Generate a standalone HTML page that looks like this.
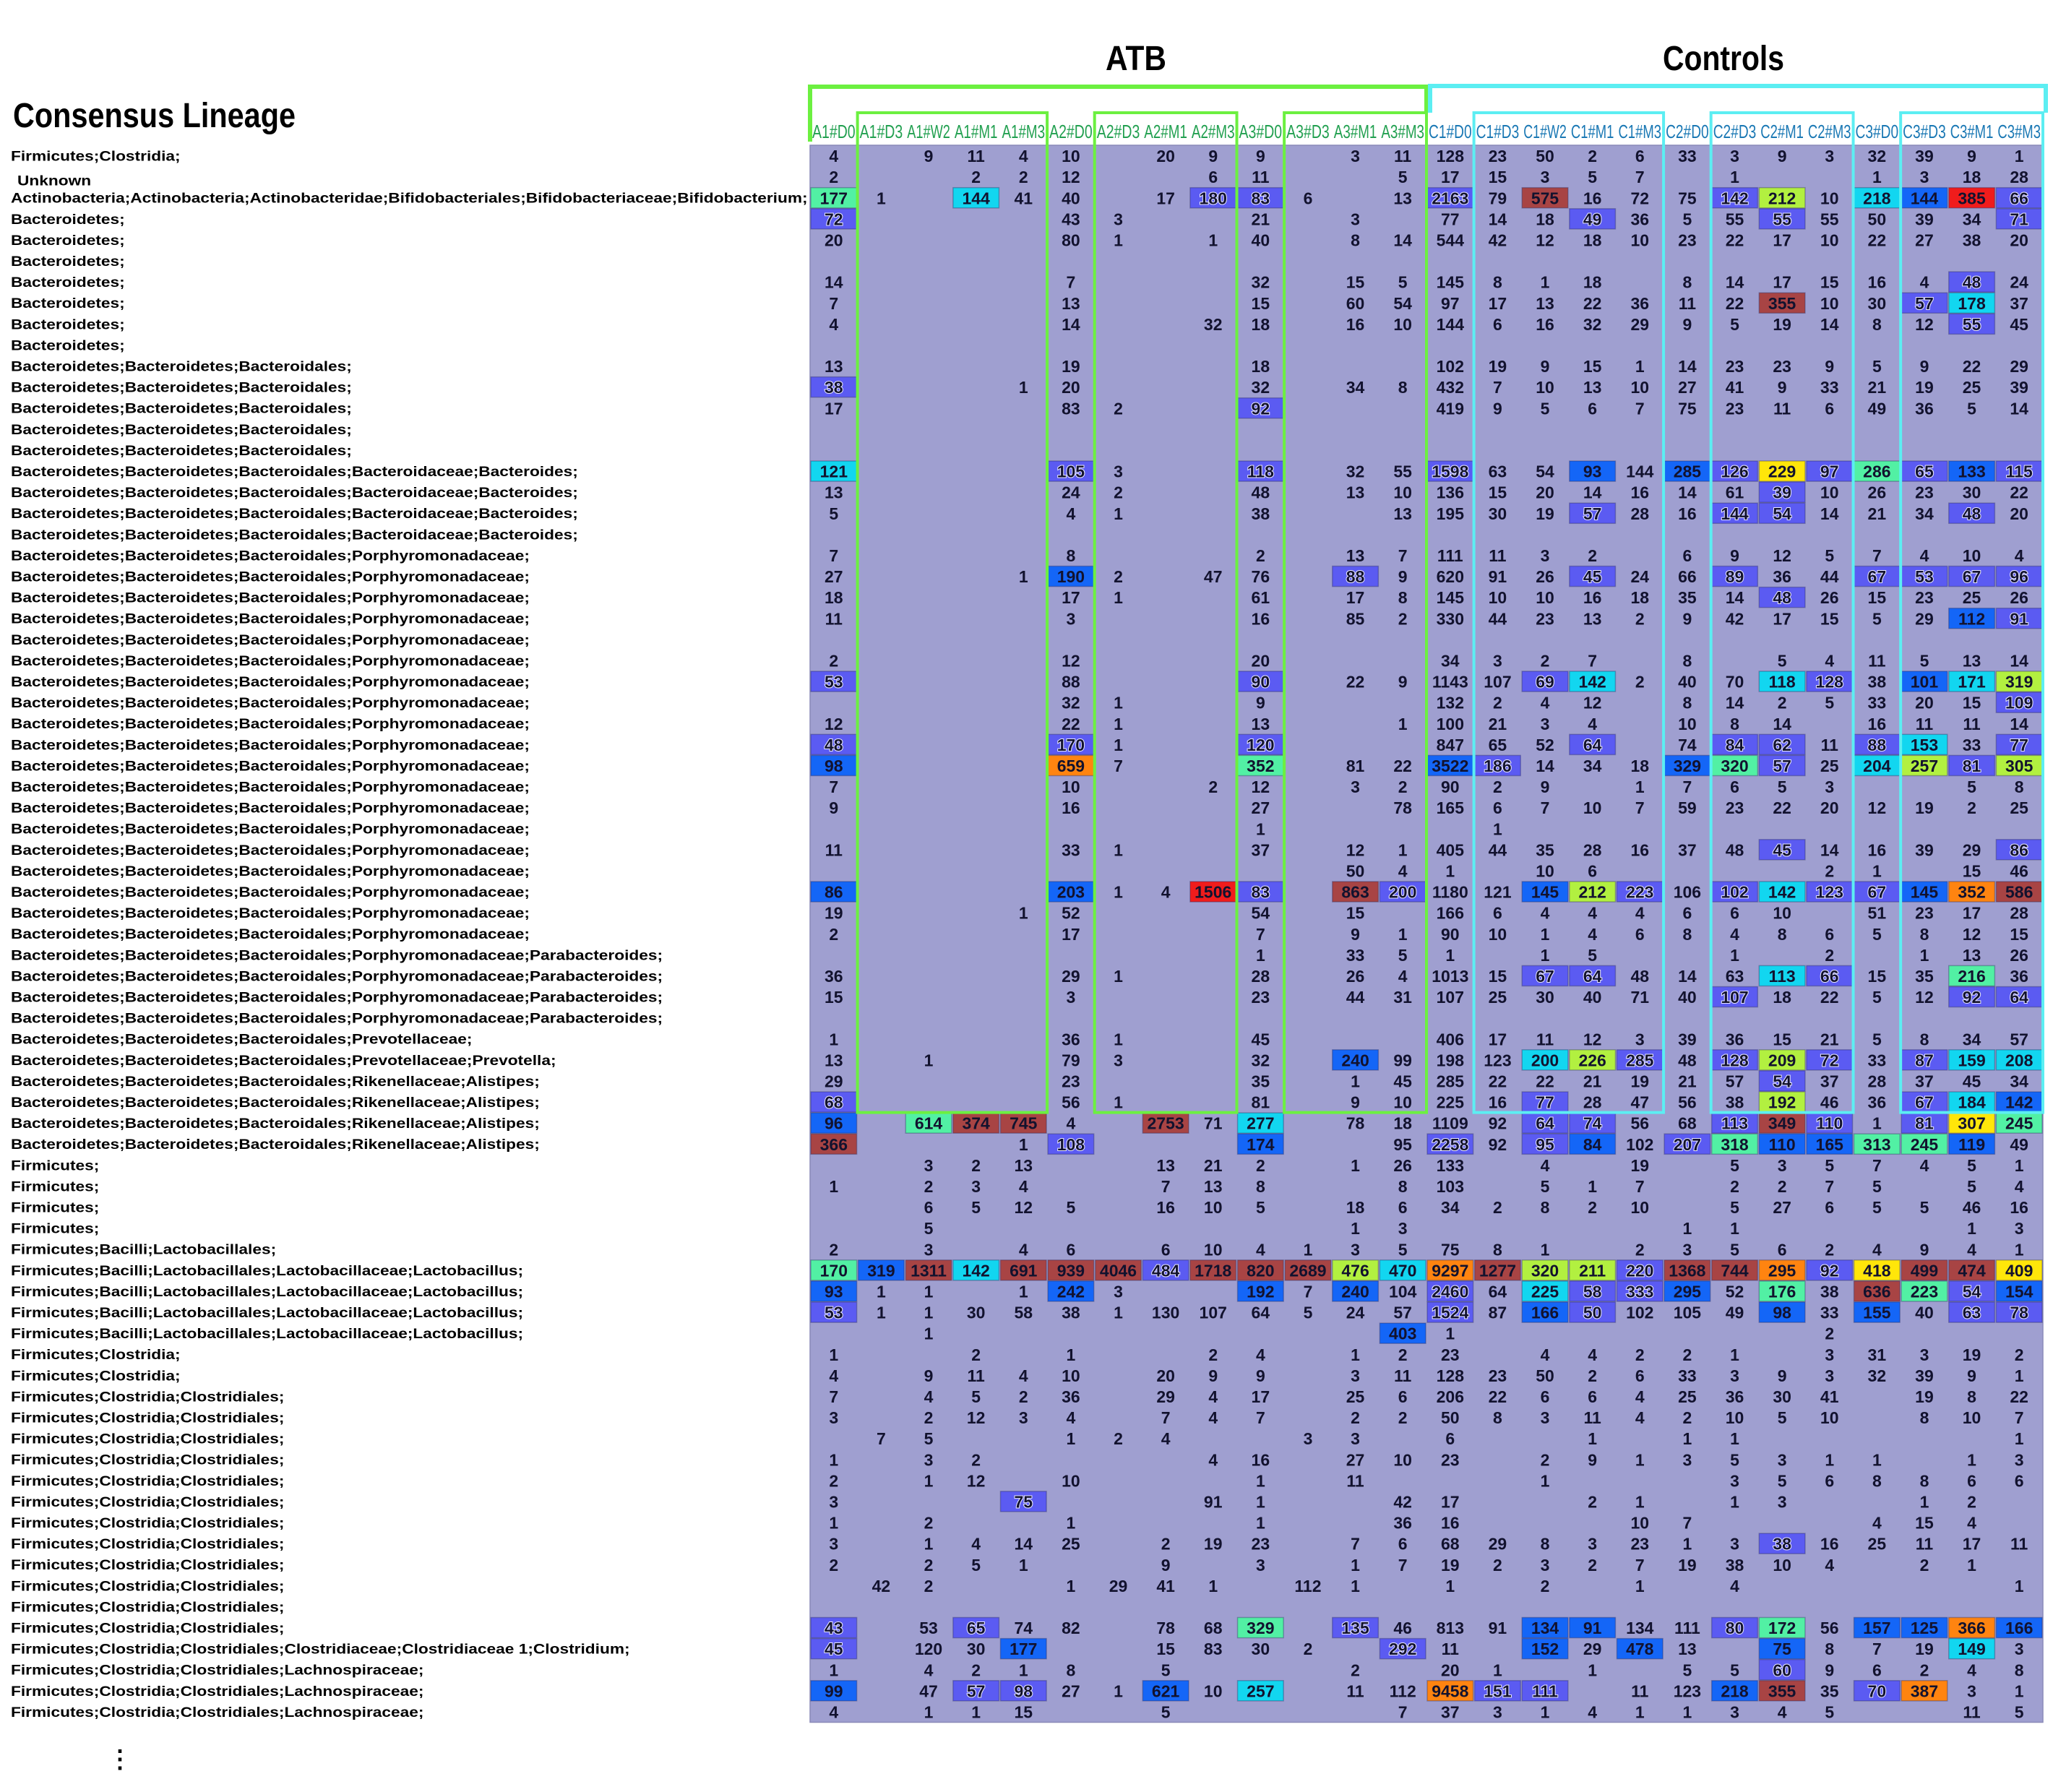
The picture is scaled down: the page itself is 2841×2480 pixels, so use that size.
<!DOCTYPE html>
<html><head><meta charset="utf-8"><title>Consensus Lineage heatmap</title>
<style>
html,body{margin:0;padding:0;background:#fff;}
svg{display:block;}
text{font-family:"Liberation Sans",Arial,sans-serif;}
</style></head>
<body>
<svg id="chart" xmlns="http://www.w3.org/2000/svg" width="2841" height="2480" viewBox="0 0 2841 2480">
<rect x="0" y="0" width="2841" height="2480" fill="#ffffff"/>
<text x="18" y="176" font-size="48" font-weight="bold" textLength="391" lengthAdjust="spacingAndGlyphs" fill="#000">Consensus Lineage</text>
<text x="1572" y="97" font-size="48" font-weight="bold" text-anchor="middle" textLength="84" lengthAdjust="spacingAndGlyphs" fill="#000">ATB</text>
<text x="2385" y="97" font-size="48" font-weight="bold" text-anchor="middle" textLength="168" lengthAdjust="spacingAndGlyphs" fill="#000">Controls</text>
<text x="166" y="2446" font-size="34" font-weight="bold" text-anchor="middle" fill="#000">⋮</text>
<g id="cells"></g>
<g id="labels" transform="scale(1.165,1)"></g>
<g id="heads"></g>
<g id="boxes"></g>
</svg>
<script>
const colLabels = ["A1#D0","A1#D3","A1#W2","A1#M1","A1#M3","A2#D0","A2#D3","A2#M1","A2#M3","A3#D0","A3#D3","A3#M1","A3#M3",
"C1#D0","C1#D3","C1#W2","C1#M1","C1#M3","C2#D0","C2#D3","C2#M1","C2#M3","C3#D0","C3#D3","C3#M1","C3#M3"];

const P = "Bacteroidetes;Bacteroidetes;Bacteroidales;";
const rowLabels = [
"Firmicutes;Clostridia;"," Unknown",
"Actinobacteria;Actinobacteria;Actinobacteridae;Bifidobacteriales;Bifidobacteriaceae;Bifidobacterium;",
"Bacteroidetes;","Bacteroidetes;","Bacteroidetes;","Bacteroidetes;","Bacteroidetes;","Bacteroidetes;","Bacteroidetes;",
P,P,P,P,P,
P+"Bacteroidaceae;Bacteroides;",P+"Bacteroidaceae;Bacteroides;",P+"Bacteroidaceae;Bacteroides;",P+"Bacteroidaceae;Bacteroides;",
P+"Porphyromonadaceae;",P+"Porphyromonadaceae;",P+"Porphyromonadaceae;",P+"Porphyromonadaceae;",P+"Porphyromonadaceae;",
P+"Porphyromonadaceae;",P+"Porphyromonadaceae;",P+"Porphyromonadaceae;",P+"Porphyromonadaceae;",P+"Porphyromonadaceae;",
P+"Porphyromonadaceae;",P+"Porphyromonadaceae;",P+"Porphyromonadaceae;",P+"Porphyromonadaceae;",P+"Porphyromonadaceae;",
P+"Porphyromonadaceae;",P+"Porphyromonadaceae;",P+"Porphyromonadaceae;",P+"Porphyromonadaceae;",
P+"Porphyromonadaceae;Parabacteroides;",P+"Porphyromonadaceae;Parabacteroides;",P+"Porphyromonadaceae;Parabacteroides;",P+"Porphyromonadaceae;Parabacteroides;",
P+"Prevotellaceae;",P+"Prevotellaceae;Prevotella;",
P+"Rikenellaceae;Alistipes;",P+"Rikenellaceae;Alistipes;",P+"Rikenellaceae;Alistipes;",P+"Rikenellaceae;Alistipes;",
"Firmicutes;","Firmicutes;","Firmicutes;","Firmicutes;",
"Firmicutes;Bacilli;Lactobacillales;",
"Firmicutes;Bacilli;Lactobacillales;Lactobacillaceae;Lactobacillus;","Firmicutes;Bacilli;Lactobacillales;Lactobacillaceae;Lactobacillus;",
"Firmicutes;Bacilli;Lactobacillales;Lactobacillaceae;Lactobacillus;","Firmicutes;Bacilli;Lactobacillales;Lactobacillaceae;Lactobacillus;",
"Firmicutes;Clostridia;","Firmicutes;Clostridia;",
"Firmicutes;Clostridia;Clostridiales;","Firmicutes;Clostridia;Clostridiales;","Firmicutes;Clostridia;Clostridiales;","Firmicutes;Clostridia;Clostridiales;",
"Firmicutes;Clostridia;Clostridiales;","Firmicutes;Clostridia;Clostridiales;","Firmicutes;Clostridia;Clostridiales;","Firmicutes;Clostridia;Clostridiales;",
"Firmicutes;Clostridia;Clostridiales;","Firmicutes;Clostridia;Clostridiales;","Firmicutes;Clostridia;Clostridiales;","Firmicutes;Clostridia;Clostridiales;",
"Firmicutes;Clostridia;Clostridiales;Clostridiaceae;Clostridiaceae 1;Clostridium;",
"Firmicutes;Clostridia;Clostridiales;Lachnospiraceae;","Firmicutes;Clostridia;Clostridiales;Lachnospiraceae;","Firmicutes;Clostridia;Clostridiales;Lachnospiraceae;"
];

// cell values per row (A1#D0 ... C3#M3); "." = empty; suffix letter = highlight colour class
const cellValues = [
"4 . 9 11 4 10 . 20 9 9 . 3 11 | 128 23 50 2 6 33 3 9 3 32 39 9 1",
"2 . . 2 2 12 . . 6 11 . . 5 | 17 15 3 5 7 . 1 . . 1 3 18 28",
"177g 1 . 144c 41 40 . 17 180b 83b 6 . 13 | 2163b 79 575d 16 72 75 142b 212y 10 218c 144B 385r 66b",
"72b . . . . 43 3 . . 21 . 3 . | 77 14 18 49b 36 5 55 55b 55 50 39 34 71b",
"20 . . . . 80 1 . 1 40 . 8 14 | 544 42 12 18 10 23 22 17 10 22 27 38 20",
"",
"14 . . . . 7 . . . 32 . 15 5 | 145 8 1 18 . 8 14 17 15 16 4 48b 24",
"7 . . . . 13 . . . 15 . 60 54 | 97 17 13 22 36 11 22 355d 10 30 57b 178c 37",
"4 . . . . 14 . . 32 18 . 16 10 | 144 6 16 32 29 9 5 19 14 8 12 55b 45",
"",
"13 . . . . 19 . . . 18 . . . | 102 19 9 15 1 14 23 23 9 5 9 22 29",
"38b . . . 1 20 . . . 32 . 34 8 | 432 7 10 13 10 27 41 9 33 21 19 25 39",
"17 . . . . 83 2 . . 92b . . . | 419 9 5 6 7 75 23 11 6 49 36 5 14",
"",
"",
"121c . . . . 105b 3 . . 118b . 32 55 | 1598b 63 54 93B 144 285B 126b 229Y 97b 286g 65b 133B 115b",
"13 . . . . 24 2 . . 48 . 13 10 | 136 15 20 14 16 14 61 39b 10 26 23 30 22",
"5 . . . . 4 1 . . 38 . . 13 | 195 30 19 57b 28 16 144b 54b 14 21 34 48b 20",
"",
"7 . . . . 8 . . . 2 . 13 7 | 111 11 3 2 . 6 9 12 5 7 4 10 4",
"27 . . . 1 190B 2 . 47 76 . 88b 9 | 620 91 26 45b 24 66 89b 36 44 67b 53b 67b 96b",
"18 . . . . 17 1 . . 61 . 17 8 | 145 10 10 16 18 35 14 48b 26 15 23 25 26",
"11 . . . . 3 . . . 16 . 85 2 | 330 44 23 13 2 9 42 17 15 5 29 112B 91b",
"",
"2 . . . . 12 . . . 20 . . . | 34 3 2 7 . 8 . 5 4 11 5 13 14",
"53b . . . . 88 . . . 90b . 22 9 | 1143 107 69b 142c 2 40 70 118c 128b 38 101B 171c 319y",
". . . . . 32 1 . . 9 . . . | 132 2 4 12 . 8 14 2 5 33 20 15 109b",
"12 . . . . 22 1 . . 13 . . 1 | 100 21 3 4 . 10 8 14 . 16 11 11 14",
"48b . . . . 170b 1 . . 120b . . . | 847 65 52 64b . 74 84b 62b 11 88b 153c 33 77b",
"98B . . . . 659o 7 . . 352g . 81 22 | 3522B 186b 14 34 18 329B 320g 57b 25 204c 257y 81b 305y",
"7 . . . . 10 . . 2 12 . 3 2 | 90 2 9 . 1 7 6 5 3 . . 5 8",
"9 . . . . 16 . . . 27 . . 78 | 165 6 7 10 7 59 23 22 20 12 19 2 25",
". . . . . . . . . 1 . . . | . 1 . . . . . . . . . . .",
"11 . . . . 33 1 . . 37 . 12 1 | 405 44 35 28 16 37 48 45b 14 16 39 29 86b",
". . . . . . . . . . . 50 4 | 1 . 10 6 . . . . 2 1 . 15 46",
"86B . . . . 203B 1 4 1506r 83b . 863d 200b | 1180 121 145B 212y 223b 106 102b 142c 123b 67b 145B 352o 586d",
"19 . . . 1 52 . . . 54 . 15 . | 166 6 4 4 4 6 6 10 . 51 23 17 28",
"2 . . . . 17 . . . 7 . 9 1 | 90 10 1 4 6 8 4 8 6 5 8 12 15",
". . . . . . . . . 1 . 33 5 | 1 . 1 5 . . 1 . 2 . 1 13 26",
"36 . . . . 29 1 . . 28 . 26 4 | 1013 15 67b 64b 48 14 63 113c 66b 15 35 216g 36",
"15 . . . . 3 . . . 23 . 44 31 | 107 25 30 40 71 40 107b 18 22 5 12 92b 64b",
"",
"1 . . . . 36 1 . . 45 . . . | 406 17 11 12 3 39 36 15 21 5 8 34 57",
"13 . 1 . . 79 3 . . 32 . 240B 99 | 198 123 200c 226y 285b 48 128b 209y 72b 33 87b 159c 208c",
"29 . . . . 23 . . . 35 . 1 45 | 285 22 22 21 19 21 57 54b 37 28 37 45 34",
"68b . . . . 56 1 . . 81 . 9 10 | 225 16 77b 28 47 56 38 192y 46 36 67b 184c 142B",
"96B . 614g 374d 745d 4 . 2753d 71 277c . 78 18 | 1109 92 64b 74b 56 68 113b 349d 110b 1 81b 307Y 245g",
"366d . . . 1 108b . . . 174B . . 95 | 2258b 92 95b 84B 102 207b 318g 110B 165B 313g 245g 119B 49",
". . 3 2 13 . . 13 21 2 . 1 26 | 133 . 4 . 19 . 5 3 5 7 4 5 1",
"1 . 2 3 4 . . 7 13 8 . . 8 | 103 . 5 1 7 . 2 2 7 5 . 5 4",
". . 6 5 12 5 . 16 10 5 . 18 6 | 34 2 8 2 10 . 5 27 6 5 5 46 16",
". . 5 . . . . . . . . 1 3 | . . . . . 1 1 . . . . 1 3",
"2 . 3 . 4 6 . 6 10 4 1 3 5 | 75 8 1 . 2 3 5 6 2 4 9 4 1",
"170g 319B 1311d 142c 691d 939d 4046d 484b 1718d 820d 2689d 476y 470c | 9297o 1277d 320y 211y 220b 1368d 744d 295o 92b 418Y 499d 474d 409Y",
"93B 1 1 . 1 242B 3 . . 192B 7 240B 104 | 2460b 64 225c 58b 333b 295B 52 176g 38 636d 223g 54b 154B",
"53b 1 1 30 58 38 1 130 107 64 5 24 57 | 1524b 87 166B 50b 102 105 49 98B 33 155B 40 63b 78b",
". . 1 . . . . . . . . . 403B | 1 . . . . . . . 2 . . . .",
"1 . . 2 . 1 . . 2 4 . 1 2 | 23 . 4 4 2 2 1 . 3 31 3 19 2",
"4 . 9 11 4 10 . 20 9 9 . 3 11 | 128 23 50 2 6 33 3 9 3 32 39 9 1",
"7 . 4 5 2 36 . 29 4 17 . 25 6 | 206 22 6 6 4 25 36 30 41 . 19 8 22",
"3 . 2 12 3 4 . 7 4 7 . 2 2 | 50 8 3 11 4 2 10 5 10 . 8 10 7",
". 7 5 . . 1 2 4 . . 3 3 . | 6 . . 1 . 1 1 . . . . . 1",
"1 . 3 2 . . . . 4 16 . 27 10 | 23 . 2 9 1 3 5 3 1 1 . 1 3",
"2 . 1 12 . 10 . . . 1 . 11 . | . . 1 . . . 3 5 6 8 8 6 6",
"3 . . . 75b . . . 91 1 . . 42 | 17 . . 2 1 . 1 3 . . 1 2 .",
"1 . 2 . . 1 . . . 1 . . 36 | 16 . . . 10 7 . . . 4 15 4 .",
"3 . 1 4 14 25 . 2 19 23 . 7 6 | 68 29 8 3 23 1 3 38b 16 25 11 17 11",
"2 . 2 5 1 . . 9 . 3 . 1 7 | 19 2 3 2 7 19 38 10 4 . 2 1 .",
". 42 2 . . 1 29 41 1 . 112 1 . | 1 . 2 . 1 . 4 . . . . . 1",
"",
"43b . 53 65b 74 82 . 78 68 329g . 135b 46 | 813 91 134B 91B 134 111 80b 172g 56 157B 125B 366o 166B",
"45b . 120 30 177B . . 15 83 30 2 . 292b | 11 . 152B 29 478B 13 . 75B 8 7 19 149c 3",
"1 . 4 2 1 8 . 5 . . . 2 . | 20 1 . 1 . 5 5 60b 9 6 2 4 8",
"99B . 47 57b 98b 27 1 621B 10 257c . 11 112 | 9458o 151b 111b . 11 123 218B 355d 35 70b 387o 3 1",
"4 . 1 1 15 . . 5 . . . . 7 | 37 3 1 4 1 1 3 4 5 . . 11 5"
];

const colorMap = {b:"#5b5bf2",B:"#1466f7",c:"#12d6f0",g:"#52f0a4",y:"#b2f040",Y:"#ffe60a",o:"#ff8410",r:"#f01c1c",d:"#a84444"};

const NS = "http://www.w3.org/2000/svg";
const X0 = 1121, COLW = (2827-1121)/26, Y0 = 201, ROWH = 29.1;
const xScale = i => X0 + i*COLW;
const yScale = r => Y0 + r*ROWH;
const nRows = cellValues.length, nCols = colLabels.length;

function mk(tag, attrs, parent){
  const e = document.createElementNS(NS, tag);
  for (const k in attrs) e.setAttribute(k, attrs[k]);
  parent.appendChild(e);
  return e;
}

const cells = document.getElementById('cells');
const bg = mk('rect', {x:X0, y:Y0, width:nCols*COLW, height:nRows*ROWH, fill:"#9f9fd0", stroke:"#8a8ab8", "stroke-width":1.5}, cells);



cellValues.forEach((row, r) => {
  const toks = row.replace('|',' ').trim().split(/\s+/).filter(t => t.length);
  toks.forEach((t, c) => {
    if (t === '.') return;
    const m = t.match(/^(\d+)([a-zA-Z]?)$/);
    if (!m) return;
    const val = m[1], cls = m[2];
    if (cls) {
      const rc = mk('rect', {x:xScale(c)+1, y:yScale(r)+0.5, width:COLW-2, height:ROWH-1, fill:colorMap[cls], stroke:"rgba(40,40,90,0.35)", "stroke-width":1.5}, cells);
      
      
    }
    const attrs = {x:xScale(c)+COLW/2, y:yScale(r)+ROWH/2+8.5, "font-size":23, "font-weight":"bold", "text-anchor":"middle", fill:"#12122e"};
    if (cls === 'b') { attrs.stroke = "#e8e8ff"; attrs["stroke-width"] = 2; attrs["paint-order"] = "stroke"; }
    const tx = mk('text', attrs, cells);
    tx.textContent = val;
    
    
  });
});

const labels = document.getElementById('labels');
const SX = 1.165;
rowLabels.forEach((lab, r) => {
  const isUnk = lab.startsWith(' ');
  const tx = mk('text', {x: (isUnk ? 24 : 15)/SX, y: yScale(r)+ROWH/2+7 + (isUnk?5:0), "font-size":19.5, "font-weight":"bold", fill:"#000"}, labels);
  tx.textContent = lab.trim();
  
  
});

const heads = document.getElementById('heads');
colLabels.forEach((lab, c) => {
  const tx = mk('text', {x:xScale(c)+COLW/2, y:191, "font-size":26, "font-weight":"normal", "text-anchor":"middle", textLength:COLW-6, lengthAdjust:"spacingAndGlyphs", fill: c < 13 ? "#22a050" : "#1a78b4"}, heads);
  tx.textContent = lab;
  
  
});

const boxes = document.getElementById('boxes');
const GREEN = "#6cf040", CYAN = "#5ceef2";
const boxBottom = yScale(46);
const ob1 = mk('path', {d:`M${xScale(0)} 196 V120 H${xScale(13)} V156`, fill:"none", stroke:GREEN, "stroke-width":6}, boxes);


const ob2 = mk('path', {d:`M${xScale(13)+5} 156 V119 H${xScale(26)+4} V156`, fill:"none", stroke:CYAN, "stroke-width":6}, boxes);


const groups = [[1,5,GREEN],[6,9,GREEN],[10,13,GREEN],[14,18,CYAN],[19,22,CYAN],[23,26,CYAN]];
groups.forEach(g => {
  const bx = mk('rect', {x:xScale(g[0]), y:156, width:xScale(g[1])-xScale(g[0]), height:boxBottom-156, fill:"none", stroke:g[2], "stroke-width":4}, boxes);
  
  
});
</script>
</body></html>
